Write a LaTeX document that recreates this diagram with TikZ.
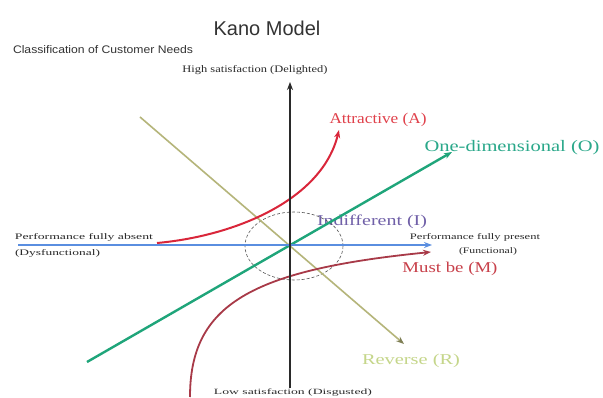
\documentclass[tikz,border=0pt]{standalone}
\usepackage{fontspec}
\setmainfont{Liberation Serif}
\newfontfamily\titlefont{Liberation Sans}
\usetikzlibrary{arrows.meta}
\newcommand\wfit[2]{\resizebox{#1}{\height}{#2}}
\definecolor{attr}{HTML}{D9263A}
\definecolor{attrlab}{HTML}{E0404A}
\definecolor{must}{HTML}{A83A48}
\definecolor{mustlab}{HTML}{C8404A}
\definecolor{perfblue}{HTML}{5A8EE0}
\definecolor{onegreen}{HTML}{1FA57A}
\definecolor{onelab}{HTML}{2AA88A}
\definecolor{revline}{HTML}{B5B57A}
\definecolor{revlab}{HTML}{C5D68A}
\definecolor{indiff}{HTML}{7060A8}
\definecolor{axisgray}{HTML}{2A2A2A}
\begin{document}
\begin{tikzpicture}[x=1pt,y=-1pt,
  lab/.style={inner sep=0pt, outer sep=0pt},
  biglab/.style={lab, font=\fontsize{15}{17}\selectfont},
  smalllab/.style={lab, text=axisgray, font=\fontsize{8.5}{10}\selectfont},
  tip/.style={-{Stealth[length=8pt,width=6pt]}}]
\fill[white] (0,0) rectangle (603,398);
\useasboundingbox (0,0) rectangle (603,398);

% titles
\node[lab, font=\titlefont\fontsize{20}{22}\selectfont, text=black!80] (title) at (267,28) {Kano Model};
\node[lab, anchor=west, font=\titlefont\fontsize{11}{13}\selectfont, text=black!80] (classif) at (13,50) {\wfit{180pt}{Classification of Customer Needs}};

% axis labels
\node[smalllab, font=\fontsize{10}{12}\selectfont] (high) at (255,70) {\wfit{145pt}{High satisfaction (Delighted)}};
\node[smalllab, font=\fontsize{8}{10}\selectfont] (low) at (293,393) {\wfit{158pt}{Low satisfaction (Disgusted)}};
\node[smalllab, anchor=west] (absent1) at (15,237) {\wfit{138pt}{Performance fully absent}};
\node[smalllab, anchor=west] (absent2) at (15,253) {\wfit{85pt}{(Dysfunctional)}};
\node[smalllab] (present1) at (475,237) {\wfit{130pt}{Performance fully present}};
\node[smalllab] (present2) at (488,251) {\wfit{58pt}{(Functional)}};

% category labels
\node[biglab, text=attrlab] (attrl) at (378,120) {\wfit{97pt}{Attractive (A)}};
\node[biglab, text=onelab, font=\fontsize{16}{18}\selectfont] (onel) at (512,148) {\wfit{175pt}{One-dimensional (O)}};
\node[biglab, text=indiff] (indl) at (372,222) {\wfit{110pt}{Indifferent (I)}};
\node[biglab, text=mustlab] (mustl) at (450,269) {\wfit{95pt}{Must be (M)}};
\node[biglab, text=revlab] (revl) at (411,361) {\wfit{98pt}{Reverse (R)}};

% coordinates
\coordinate (o) at (290,245);
\coordinate (vtop) at (290,82);
\coordinate (vbot) at (290,388);
\coordinate (hl) at (18,245);
\coordinate (hr) at (432,245);
\coordinate (gs) at (87,362);
\coordinate (ge) at (452,152);
\coordinate (rs) at (140,117);
\coordinate (re) at (404,344);
\coordinate (as) at (157,243);
\coordinate (ae) at (339,130);
\coordinate (ms) at (190,397);
\coordinate (me) at (431,252);

% indifferent dashed ellipse
\draw[axisgray!80, densely dashed, line width=0.6pt] (294,246) ellipse [x radius=49, y radius=34];

% reverse line
\draw[revline, line width=1.6pt, -{Stealth[length=8pt,width=6pt,color=revline!70!black]}] (rs) -- (re);
% one-dimensional
\draw[onegreen, line width=2.4pt, tip] (gs) -- (ge);
% performance axis
\draw[perfblue, line width=2.6pt, tip] (hl) -- (hr);
% attractive
\draw[attr, line width=2pt, tip] (as) .. controls (235,236) and (322,200) .. (ae);
% must be
\draw[must, line width=1.8pt, tip] (ms) .. controls (190,305) and (250,270) .. (me);
% satisfaction axis
\draw[axisgray, line width=1.6pt, tip] (vbot) -- (vtop);
\end{tikzpicture}
\end{document}
